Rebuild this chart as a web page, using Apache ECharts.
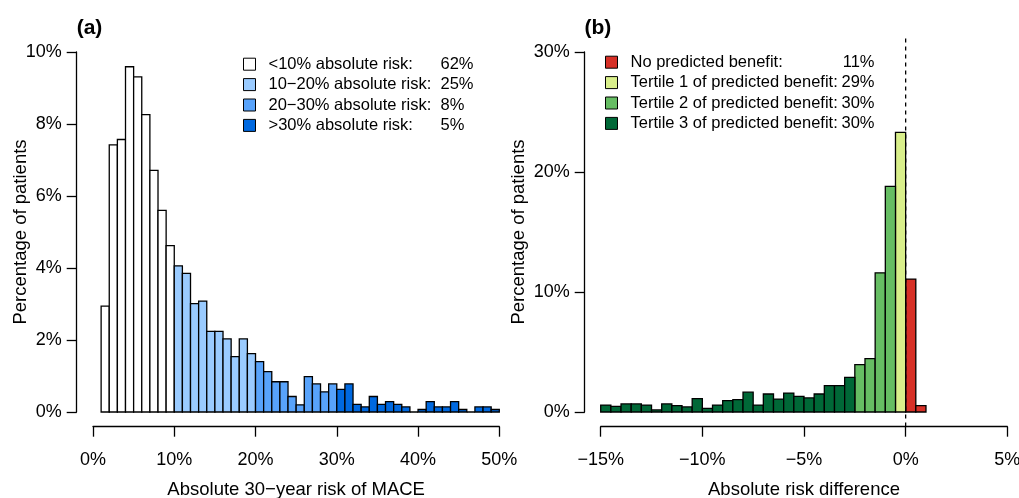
<!DOCTYPE html>
<html>
<head>
<meta charset="utf-8">
<script src="https://cdn.jsdelivr.net/npm/echarts@6/dist/echarts.min.js"></script>
<style>
  html, body { margin: 0; padding: 0; background: #fff; }
  #chart { width: 1019px; height: 498px; }
</style>
</head>
<body>
<div id="chart"></div>
<script>
// panel (a): 1%-wide bins, starting at 1%
var riskBinStart = 1
var riskBinWidth = 1
var riskValues = [2.94, 7.42, 7.57, 9.59, 9.31, 8.26, 6.71, 5.60, 4.62,
  4.06, 3.85, 3.01, 3.08, 2.24, 2.24, 2.03, 1.54, 2.03, 1.62,
  1.40, 1.12, 0.84, 0.84, 0.43, 0.20, 0.98, 0.78, 0.56, 0.78,
  0.63, 0.78, 0.21, 0.14, 0.43, 0.21, 0.29, 0.21, 0.14, 0, 0.07,
  0.29, 0.14, 0.14, 0.29, 0.07, 0, 0.14, 0.14, 0.07]
var riskGroups = ['<10% absolute risk:', '10\u221220% absolute risk:', '20\u221230% absolute risk:', '>30% absolute risk:']
var riskCuts = [0, 10, 20, 30]
var riskPct = ['62%', '25%', '8%', '5%']
var riskColors = ['#ffffff', '#9acbff', '#58a3fb', '#0069e0']
var riskTicksX = [0, 10, 20, 30, 40, 50]
var riskTicksY = [0, 2, 4, 6, 8, 10]

// panel (b): 0.5%-wide bins, starting at -15%
var diffBinStart = -15
var diffBinWidth = 0.5
var diffValues = [0.58, 0.47, 0.67, 0.67, 0.58, 0.17, 0.67, 0.53, 0.42, 1.11,
  0.31, 0.58, 0.94, 1.03, 1.65, 0.58, 1.50, 1.08, 1.58, 1.31,
  1.17, 1.50, 2.19, 2.19, 2.89, 3.94, 4.44, 11.6, 18.8, 23.3,
  11.08, 0.53]
var diffGroups = ['No predicted benefit:', 'Tertile 1 of predicted benefit:', 'Tertile 2 of predicted benefit:', 'Tertile 3 of predicted benefit:']
var diffCuts = [0, -0.5, -2.5, -100]
var diffPct = ['11%', '29%', '30%', '30%']
var diffColors = ['#d73027', '#d9ef8b', '#66bd63', '#006837']
var diffTicksX = [-15, -10, -5, 0, 5]
var diffTicksY = [0, 10, 20, 30]
var refLineY = [-1.2, 31.2]

var font = 'Liberation Sans, Arial, Helvetica, sans-serif'

function pctLabel (v) {
  return (v < 0 ? '\u2212' + Math.abs(v) : v) + '%'
}

function histItem (width, color) {
  return function (params, api) {
    var x0 = api.value(0)
    var h = api.value(1)
    var a = api.coord([x0, 0])
    var b = api.coord([x0 + width, h])
    return {
      type: 'rect',
      shape: { x: a[0], y: b[1], width: b[0] - a[0], height: a[1] - b[1] },
      style: { fill: color, stroke: '#000', lineWidth: 1.3 }
    }
  }
}

function axisBase (ticks, offset, extra) {
  var ax = {
    type: 'value',
    min: ticks[0],
    max: ticks[ticks.length - 1],
    interval: ticks[1] - ticks[0],
    offset: offset,
    axisLine: { show: true, onZero: false, lineStyle: { color: '#000', width: 1.3 } },
    axisTick: { show: true, length: 10, lineStyle: { color: '#000', width: 1.3 } },
    splitLine: { show: false },
    nameLocation: 'middle',
    nameMoveOverlap: false,
    nameTextStyle: { color: '#000', fontSize: 18.5, fontFamily: font }
  }
  return Object.assign(ax, extra)
}

function tickLabels (margin) {
  return { color: '#000', fontSize: 18, fontFamily: font, formatter: pctLabel, margin: margin }
}

var series = []
riskGroups.forEach(function (name, g) {
  var data = []
  riskValues.forEach(function (v, i) {
    var x = riskBinStart + i * riskBinWidth
    var grp = x >= riskCuts[3] ? 3 : x >= riskCuts[2] ? 2 : x >= riskCuts[1] ? 1 : 0
    if (grp === g) data.push([x, v])
  })
  series.push({
    name: name,
    type: 'custom',
    xAxisIndex: 0,
    yAxisIndex: 0,
    itemStyle: { color: riskColors[g] },
    renderItem: histItem(riskBinWidth, riskColors[g]),
    encode: { x: 0, y: 1 },
    data: data
  })
})
diffGroups.forEach(function (name, g) {
  var data = []
  diffValues.forEach(function (v, i) {
    var x = diffBinStart + i * diffBinWidth
    var grp = x >= diffCuts[0] ? 0 : x >= diffCuts[1] ? 1 : x >= diffCuts[2] ? 2 : 3
    if (grp === g) data.push([x, v])
  })
  series.push({
    name: name,
    type: 'custom',
    xAxisIndex: 1,
    yAxisIndex: 1,
    itemStyle: { color: diffColors[g] },
    renderItem: histItem(diffBinWidth, diffColors[g]),
    encode: { x: 0, y: 1 },
    data: data
  })
})
series.push({
  type: 'line',
  xAxisIndex: 1,
  yAxisIndex: 1,
  clip: false,
  symbol: 'none',
  silent: true,
  lineStyle: { color: '#000', width: 1.3, type: [4, 4] },
  data: [[0, refLineY[0]], [0, refLineY[1]]]
})

function legendFor (names, pcts, left, top, nameWidth, pctAlign, pctWidth) {
  var lh = 20.4
  return {
    orient: 'vertical',
    left: left,
    top: top,
    padding: 0,
    itemWidth: 12,
    itemHeight: 12,
    itemGap: 0,
    icon: 'rect',
    selectedMode: false,
    itemStyle: { borderColor: '#000', borderWidth: 1 },
    data: names,
    formatter: function (name) {
      return '{g|}{n|' + name + '}{p|' + pcts[names.indexOf(name)] + '}'
    },
    textStyle: {
      color: '#000',
      fontSize: 16.5,
      fontFamily: font,
      lineHeight: lh,
      rich: {
        g: { width: 8, lineHeight: lh },
        n: { width: nameWidth, fontSize: 16.5, fontFamily: font, color: '#000', lineHeight: lh },
        p: { width: pctWidth, align: pctAlign, fontSize: 16.5, fontFamily: font, color: '#000', lineHeight: lh }
      }
    }
  }
}

var chart = echarts.init(document.getElementById('chart'), null, { renderer: 'canvas' })
chart.setOption({
  backgroundColor: '#fff',
  animation: false,
  title: [
    { text: '(a)', left: 76.7, top: 18, padding: 0, textStyle: { fontSize: 21, fontWeight: 'bold', fontFamily: font, color: '#000' } },
    { text: '(b)', left: 584.5, top: 18, padding: 0, textStyle: { fontSize: 21, fontWeight: 'bold', fontFamily: font, color: '#000' } }
  ],
  legend: [
    legendFor(riskGroups, riskPct, 243, 54, 172, 'left', 40),
    legendFor(diffGroups, diffPct, 605, 52, 211, 'right', 33)
  ],
  grid: [
    { left: 93, top: 52, width: 406.3, height: 360, outerBoundsMode: 'none', containLabel: false },
    { left: 600.7, top: 52, width: 406.6, height: 360, outerBoundsMode: 'none', containLabel: false }
  ],
  xAxis: [
    axisBase(riskTicksX, 14.7, { gridIndex: 0, name: 'Absolute 30\u2212year risk of MACE', nameGap: 54, axisLabel: tickLabels(24) }),
    axisBase(diffTicksX, 14.7, { gridIndex: 1, name: 'Absolute risk difference', nameGap: 54, axisLabel: tickLabels(24) })
  ],
  yAxis: [
    axisBase(riskTicksY, 16.3, { gridIndex: 0, name: 'Percentage of patients', nameGap: 46, axisLabel: tickLabels(15) }),
    axisBase(diffTicksY, 16, { gridIndex: 1, name: 'Percentage of patients', nameGap: 56, axisLabel: tickLabels(15) })
  ],
  series: series
})
window.addEventListener('resize', function () { chart.resize() })
</script>
</body>
</html>
